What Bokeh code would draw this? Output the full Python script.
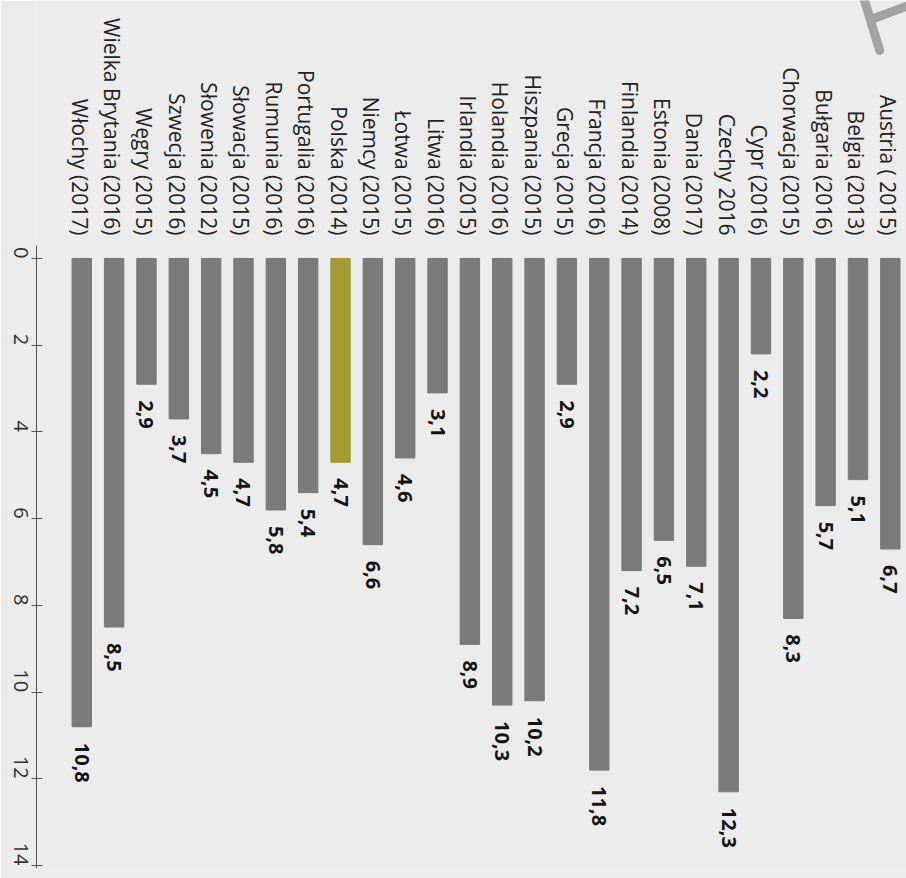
import math

from bokeh.core.properties import value
from bokeh.embed import file_html
from bokeh.models import ColumnDataSource, FixedTicker, Range1d
from bokeh.plotting import figure
from bokeh.resources import INLINE

# Country (survey year) and value, left to right
countries = [
    "Włochy (2017)", "Wielka Brytania (2016)", "Węgry (2015)", "Szwecja (2016)",
    "Słowenia (2012)", "Słowacja (2015)", "Rumunia (2016)", "Portugalia (2016)",
    "Polska (2014)", "Niemcy (2015)", "Łotwa (2015)", "Litwa (2016)",
    "Irlandia (2015)", "Holandia (2016)", "Hiszpania (2015)", "Grecja (2015)",
    "Francja (2016)", "Finlandia (2014)", "Estonia (2008)", "Dania (2017)",
    "Czechy 2016", "Cypr (2016)", "Chorwacja (2015)", "Bułgaria (2016)",
    "Belgia (2013)", "Austria ( 2015)",
]
shares = [
    10.8, 8.5, 2.9, 3.7,
    4.5, 4.7, 5.8, 5.4,
    4.7, 6.6, 4.6, 3.1,
    8.9, 10.3, 10.2, 2.9,
    11.8, 7.2, 6.5, 7.1,
    12.3, 2.2, 8.3, 5.7,
    5.1, 6.7,
]
highlight = "Polska (2014)"
axis_ticks = [0, 2, 4, 6, 8, 10, 12, 14]

BG = "#ebebeb"
BAR = "#7a7a7a"
BAR_HL = "#a39a34"
FONT = "Open Sans"

n = len(countries)
xs = list(range(n))
colors = [BAR_HL if c == highlight else BAR for c in countries]
labels = [f"{v:.1f}".replace(".", ",") for v in shares]

src = ColumnDataSource(dict(x=xs, cat=countries, val=shares, color=colors, label=labels))

p = figure(
    width=906, height=878,
    output_backend="svg", toolbar_location=None,
    x_range=Range1d(-1.40, n - 0.5),
    y_range=Range1d(14.115, -5.95),
    x_axis_location=None, y_axis_location="left",
    min_border_left=36, min_border_right=0, min_border_top=0, min_border_bottom=8,
    background_fill_color=BG, border_fill_color=BG, outline_line_color=None,
)
p.grid.grid_line_color = None

# value axis, rotated with the chart
ax = p.yaxis[0]
ax.ticker = FixedTicker(ticks=axis_ticks)
ax.bounds = (-0.3, 14.07)
ax.major_label_orientation = -math.pi / 2
ax.major_label_text_font = FONT
ax.major_label_text_font_size = "20px"
ax.major_label_text_color = "#333333"
ax.major_label_standoff = 11
ax.major_tick_in = 6
ax.major_tick_out = 5
ax.minor_tick_line_color = None
ax.axis_line_color = "#555555"
ax.major_tick_line_color = "#555555"

# bars hanging from zero
p.vbar(x="x", top="val", bottom=0, width=0.6, color="color", source=src)

# country names above the bars
p.text(x="x", y=0, text="cat", source=src, angle=-math.pi / 2,
       text_align="right", text_baseline="middle", y_offset=-23, x_offset=-2,
       text_font=value(FONT), text_font_size="21px", text_color="#222222")

# value labels below bar ends
p.text(x="x", y="val", text="label", source=src, angle=-math.pi / 2,
       text_align="left", text_baseline="middle", y_offset=16,
       text_font=value(FONT), text_font_size="20px", text_font_style="bold",
       text_color="#151515")

# corner logo strokes
logo_x1 = [24.14, 24.67]
logo_y1 = [-6.1, -4.80]
logo_x2 = [24.48, 25.7]
logo_y2 = [-5.535, -5.87]
p.line(logo_x1, logo_y1, line_width=9, line_color="#a3a3a3", line_cap="round")
p.line(logo_x2, logo_y2, line_width=9, line_color="#a3a3a3", line_cap="round")

open("out.html", "w").write(file_html(p, INLINE))
